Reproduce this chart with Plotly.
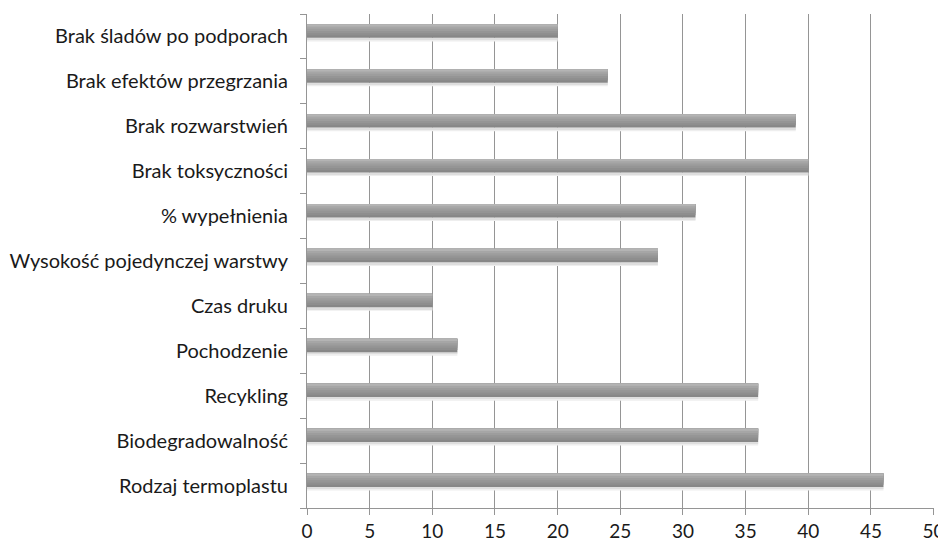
import plotly.graph_objects as go

categories = ["Rodzaj termoplastu", "Biodegradowalność", "Recykling", "Pochodzenie",
              "Czas druku", "Wysokość pojedynczej warstwy", "% wypełnienia",
              "Brak toksyczności", "Brak rozwarstwień", "Brak efektów przegrzania",
              "Brak śladów po podporach"]
values = [46, 36, 36, 12, 10, 28, 31, 40, 39, 24, 20]
x_ticks = [0, 5, 10, 15, 20, 25, 30, 35, 40, 45, 50]

fig = go.Figure()
# overlapping layers (each reaching the bar's top edge) to mimic a shaded cylinder
bar_top = 0.27
layers = [  # (bottom edge in category units, colour)
    (-0.11, "#eeeeee"),   # soft shadow
    (-0.07, "#dedede"),
    (-0.03, "#878787"),   # bar body
    (0.02, "#8e8e8e"),
    (0.07, "#959595"),
    (0.12, "#9d9d9d"),
    (0.17, "#a6a6a6"),
    (0.22, "#b4b4b4"),
]
for i, (bottom, col) in enumerate(layers):
    top = bar_top if i >= 2 else -0.03
    fig.add_trace(go.Bar(y=categories, x=values, orientation="h", width=top - bottom,
                         offset=bottom, marker=dict(color=col, line=dict(width=0)),
                         hoverinfo="x+y" if i == 2 else "skip"))

# page body has an 8px default margin, so the figure is sized to fit the window
fig.update_layout(
    width=938, height=536,
    margin=dict(l=299, r=12, t=6, b=36),
    barmode="overlay", showlegend=False,
    plot_bgcolor="white", paper_bgcolor="white",
    font=dict(family="Lato, Open Sans, sans-serif", size=20, color="#1a1a1a"),
    xaxis=dict(range=[0, 50.03], tickvals=x_ticks, showgrid=True, gridcolor="#959595",
               gridwidth=1, showline=True, linecolor="#959595", ticks="outside",
               ticklen=6, tickcolor="#959595", zeroline=False, automargin=False,
               tickfont=dict(size=19), fixedrange=True),
    yaxis=dict(categoryorder="array", categoryarray=categories, showline=True,
               linecolor="#959595", ticks="outside", tickson="boundaries", ticklen=6,
               tickcolor="#959595", ticklabelstandoff=14, showgrid=False, automargin=False),
)

fig.write_html("out.html")
